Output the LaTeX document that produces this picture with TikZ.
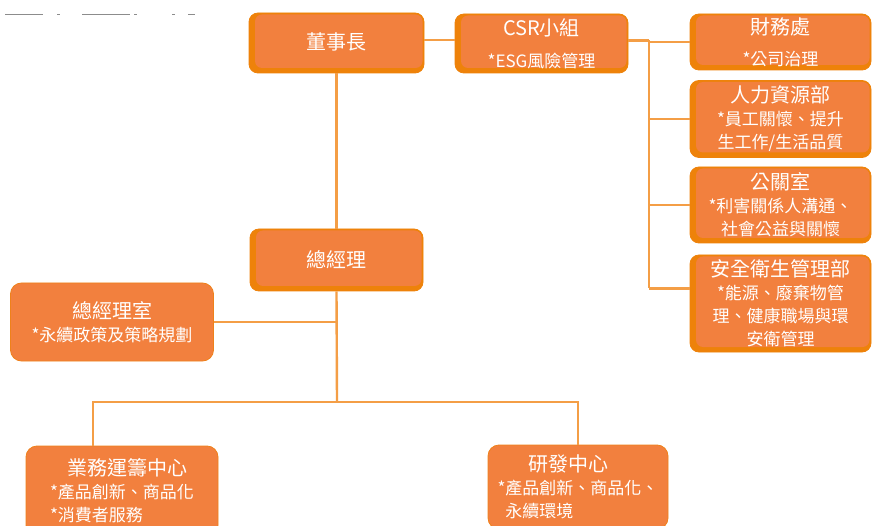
\documentclass[tikz,border=0pt]{standalone}
\usepackage{fontspec}
\setmainfont{Noto Sans CJK TC}
\definecolor{boxfill}{RGB}{242,128,62}
\definecolor{boxedge}{RGB}{238,130,10}
\definecolor{linecol}{RGB}{244,158,70}
\newcommand{\ttl}[1]{{\fontsize{20}{24}\selectfont #1}}
\tikzset{
 topbox/.style={rounded corners=9pt, fill=boxedge, draw=boxedge, line width=0.8pt,
   text=white, align=center, inner sep=0pt, font=\fontsize{17}{23}\selectfont,
   path picture={\fill[boxfill, rounded corners=7pt]
     ([xshift=6pt,yshift=5pt]path picture bounding box.south west) rectangle
     ([xshift=-1.5pt,yshift=-1.5pt]path picture bounding box.north east);}},
 plainbox/.style={rounded corners=11pt, fill=boxfill, draw=boxedge!70!boxfill,
   line width=0.8pt, text=white, inner sep=0pt, font=\fontsize{17}{23}\selectfont},
 conn/.style={draw=linecol, line width=2.4pt},
 frag/.style={draw=black!45, line width=0.6pt},
}
\begin{document}
\begin{tikzpicture}[x=1pt,y=-1pt]
\path[use as bounding box] (0,0) rectangle (872,526);
\clip (0,0) rectangle (872,526);
\fill[white] (0,0) rectangle (872,526);
% cut-off fragments at the top edge
\draw[frag] (5,14.5) -- (43,14.5);
\draw[frag] (57,14.5) -- (60,14.5);
\draw[frag] (82,14.5) -- (130,14.5);
\draw[frag] (134,14.5) -- (137,14.5);
\draw[frag] (172,14.5) -- (175,14.5);
\draw[frag] (188,14.5) -- (195,14.5);

% boxes
\node[topbox, minimum width=175pt, minimum height=60pt] (chair) at (336.5,43) {\raisebox{3pt}{\ttl{董事長}}};
\node[topbox, minimum width=173pt, minimum height=59pt] (csr) at (541.5,43.5) {\ttl{CSR小組}\\[9pt]*ESG風險管理};
\node[topbox, minimum width=181pt, minimum height=56pt] (fin) at (780.5,42) {\ttl{財務處}\\[8pt]*公司治理};
\node[topbox, minimum width=181pt, minimum height=77pt] (hr) at (780.5,119) {\ttl{人力資源部}\\*員工關懷、提升\\生工作/生活品質};
\node[topbox, minimum width=181pt, minimum height=76pt] (pr) at (780.5,205) {\ttl{公關室}\\*利害關係人溝通、\\社會公益與關懷};
\node[topbox, minimum width=181pt, minimum height=97pt] (safe) at (780.5,303.5) {\ttl{安全衛生管理部}\\*能源、廢棄物管\\理、健康職場與環\\安衛管理};
\node[topbox, minimum width=173pt, minimum height=62pt] (gm) at (336.5,260) {\ttl{總經理}};
\node[plainbox, align=center, minimum width=203pt, minimum height=78pt] (gmo) at (112,322) {\ttl{總經理室}\\*永續政策及策略規劃};
\node[plainbox, align=left, minimum width=192pt, minimum height=90pt] (biz) at (122,491) {\hspace*{17pt}\ttl{業務運籌中心}\\*產品創新、商品化\\*消費者服務};
\node[plainbox, align=left, minimum width=180pt, minimum height=84pt] (rd) at (578,487) {\hspace*{31pt}\ttl{研發中心}\\*產品創新、商品化、\\\phantom{*}永續環境};

% connectors
\coordinate (bus) at (649,0);
\coordinate (hub) at (337,402);
\draw[conn] ([yshift=3pt]chair.east) -- ([yshift=3pt]chair.east -| csr.west);
\draw[conn] ([yshift=3pt]csr.east) -- ([yshift=3pt]csr.east -| bus);
\draw[conn] ([yshift=3pt]csr.east -| bus) -- ([yshift=15pt]safe.west -| bus);
\draw[conn] (fin.west -| bus) -- (fin.west);
\draw[conn] (hr.west -| bus) -- (hr.west);
\draw[conn] (pr.west -| bus) -- (pr.west);
\draw[conn] ([yshift=15pt]safe.west -| bus) -- ([yshift=15pt]safe.west);
\draw[conn] (chair.south) -- (gm.north);
\draw[conn] (gm.south) -- (hub);
\draw[conn] (gmo.east) -- (gmo.east -| gm.south);
\draw[conn] ([xshift=-29pt]biz.north) |- (hub);
\draw[conn] (rd.north) |- (hub);
\end{tikzpicture}
\end{document}
